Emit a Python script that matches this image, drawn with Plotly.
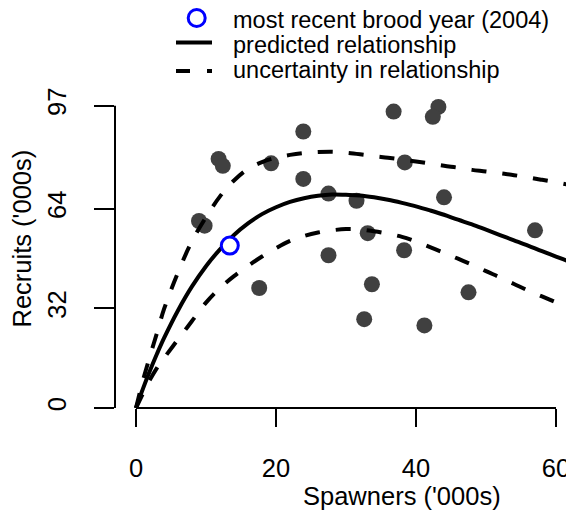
import plotly.graph_objects as go

# ---- data ----
spawners = [36.8, 43.2, 42.4, 23.9, 11.8, 12.4, 19.3, 38.4, 23.9, 27.5, 31.5, 44.0,
            9.0, 9.8, 33.1, 57.0, 38.3, 27.5, 17.6, 33.7, 47.5, 32.6, 41.2]
recruits = [95.1, 96.6, 93.4, 88.7, 79.9, 77.7, 78.5, 78.8, 73.5, 68.8, 66.5, 67.6,
            60.0, 58.5, 56.1, 57.0, 50.6, 49.0, 38.5, 39.7, 37.1, 28.5, 26.5]
recent_spawners = [13.4]
recent_recruits = [52.1]

curve_spawners = [0, 1, 2, 3, 4, 6, 8, 10, 12, 14, 16, 18, 20, 22, 24, 26, 28, 30, 32,
                  34, 36, 38, 40, 42, 44, 46, 48, 50, 52, 54, 56, 58, 60, 62, 64]
predicted = [0, 6.2, 12.0, 17.4, 22.4, 31.3, 39.0, 45.5, 50.9, 55.5, 59.2, 62.2, 64.4,
             66.1, 67.3, 68.1, 68.5, 68.4, 68.2, 67.6, 66.8, 65.8, 64.7, 63.4, 62.0,
             60.4, 58.9, 57.2, 55.5, 53.8, 52.1, 50.3, 48.6, 46.9, 45.2]
upper = [0, 8.9, 16.7, 24.1, 31.7, 43.5, 53.5, 61.2, 67.9, 73.0, 76.7, 78.9, 80.3,
         81.2, 81.8, 82.1, 82.2, 81.9, 81.4, 80.8, 80.3, 79.7, 79.1, 78.4, 77.7,
         77.1, 76.4, 75.9, 75.3, 74.7, 74.0, 73.2, 72.4, 71.5, 70.6]
lower = [0, 4.7, 9.1, 12.9, 16.0, 22.0, 27.9, 33.8, 38.5, 42.3, 45.6, 48.6, 51.3,
         53.6, 55.2, 56.3, 57.0, 57.4, 57.3, 56.7, 55.9, 54.9, 53.4, 51.6, 49.8,
         47.9, 46.0, 43.9, 41.9, 39.8, 37.7, 35.8, 33.9, 32.0, 30.1]

x_ticks = [0, 20, 40, 60]
y_ticks = [0, 32, 64, 97]
legend_labels = ["most recent brood year (2004)", "predicted relationship",
                 "uncertainty in relationship"]

FONT = "Liberation Sans, Arial, Helvetica, sans-serif"
AX_FS = 25.5
LEG_FS = 23.5

fig = go.Figure()
fig.add_trace(go.Scatter(x=spawners, y=recruits, mode="markers",
                         marker=dict(size=16, color="#404040"), showlegend=False))
for band in (upper, lower):
    fig.add_trace(go.Scatter(x=curve_spawners, y=band, mode="lines", line_shape="spline",
                             line=dict(color="black", width=4, dash="15px,16px"),
                             showlegend=False))
fig.add_trace(go.Scatter(x=curve_spawners, y=predicted, mode="lines", line_shape="spline",
                         line=dict(color="black", width=4), showlegend=False))
fig.add_trace(go.Scatter(x=recent_spawners, y=recent_recruits, mode="markers",
                         marker=dict(size=17, color="white", line=dict(color="#0000FF", width=3)),
                         showlegend=False))

# The page body has an 8px default margin, so the figure is drawn 8px in from
# the window's top-left corner; size it to fill the rest of the 574x515 window.
OFF = 8
W, H = 574 - OFF, 515 - OFF
# plot area in window pixels: left 115, right 574, top 71, bottom 408
PL, PR, PT, PB = 115, 574, 71, 408
PW, PH = PR - PL, PB - PT
ML, MT = PL - OFF, PT - OFF
MR, MB = 0, H - (PB - OFF)


def px_x(p):
    return (p - PL) / PW


def px_y(p):
    return (PB - p) / PH


shapes = [
    # axis lines spanning first to last tick (R style)
    dict(type="line", xref="x", yref="paper", x0=x_ticks[0], x1=x_ticks[-1], y0=0, y1=0,
         line=dict(color="black", width=2)),
    dict(type="line", xref="paper", yref="y", x0=0, x1=0, y0=y_ticks[0], y1=y_ticks[-1],
         line=dict(color="black", width=2)),
    # legend keys
    dict(type="circle", xref="paper", yref="paper", x0=px_x(188.2), x1=px_x(205.2),
         y0=px_y(26.5), y1=px_y(9.5), line=dict(color="#0000FF", width=3), fillcolor="white"),
    dict(type="line", xref="paper", yref="paper", x0=px_x(176), x1=px_x(212),
         y0=px_y(42.5), y1=px_y(42.5), line=dict(color="black", width=4)),
    dict(type="line", xref="paper", yref="paper", x0=px_x(176), x1=px_x(212),
         y0=px_y(71), y1=px_y(71), line=dict(color="black", width=4, dash="14px,17px")),
]

annotations = [
    dict(text="Spawners ('000s)", xref="paper", yref="paper", x=px_x(402), y=px_y(496),
         xanchor="center", yanchor="middle", showarrow=False,
         font=dict(family=FONT, size=AX_FS, color="black")),
    dict(text="Recruits ('000s)", xref="paper", yref="paper", x=px_x(21), y=px_y(238.5),
         xanchor="center", yanchor="middle", textangle=-90, showarrow=False,
         font=dict(family=FONT, size=AX_FS, color="black")),
]
for lab, yp in zip(legend_labels, [20, 45, 70.5]):
    annotations.append(dict(text=lab, xref="paper", yref="paper", x=px_x(231), y=px_y(yp),
                            xanchor="left", yanchor="middle", showarrow=False,
                            font=dict(family=FONT, size=LEG_FS, color="black")))

fig.update_layout(
    width=W, height=H,
    margin=dict(l=ML, r=MR, t=MT, b=MB, pad=0),
    paper_bgcolor="white", plot_bgcolor="white",
    showlegend=False,
    font=dict(family=FONT, size=AX_FS, color="black"),
    xaxis=dict(range=[-3.0, 62.57], tickvals=x_ticks, ticktext=[str(v) for v in x_ticks],
               ticks="outside", ticklen=18, tickwidth=2, tickcolor="black",
               showline=False, showgrid=False, zeroline=False,
               tickfont=dict(family=FONT, size=AX_FS, color="black"),
               ticklabelstandoff=19),
    yaxis=dict(range=[0, PH / 3.117], tickvals=y_ticks, ticktext=[str(v) for v in y_ticks],
               ticks="outside", ticklen=20, tickwidth=2, tickcolor="black",
               showline=False, showgrid=False, zeroline=False, tickangle=-90,
               tickfont=dict(family=FONT, size=AX_FS, color="black"),
               ticklabelstandoff=18),
    shapes=shapes,
    annotations=annotations,
)

fig.write_html("out.html")
